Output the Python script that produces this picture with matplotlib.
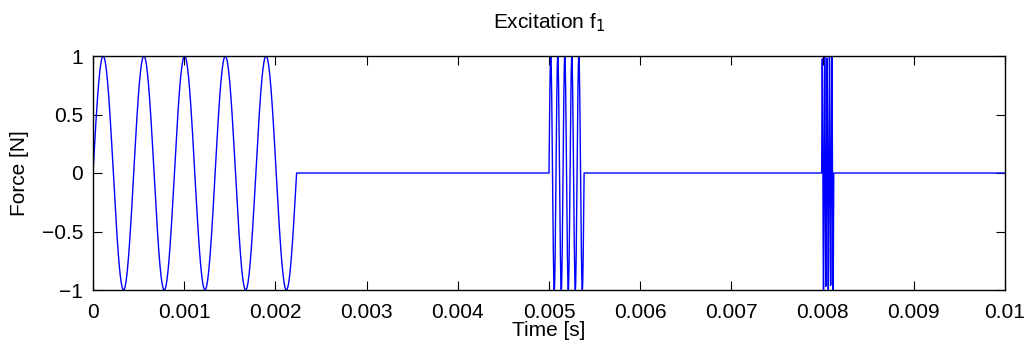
import numpy as np
import matplotlib
matplotlib.use("Agg")
import matplotlib.pyplot as plt

# Burst parameters
burst_start = [0.0, 0.005, 0.00799]      # s
burst_freq = [2240.0, 13000.0, 38000.0]  # Hz
burst_cycles = [5, 5, 5]
sample_dt = 2.5e-6                        # s
t_end = 0.01

x_ticks = [0, 0.001, 0.002, 0.003, 0.004, 0.005, 0.006, 0.007, 0.008, 0.009, 0.01]
x_tick_labels = ["0", "0.001", "0.002", "0.003", "0.004", "0.005", "0.006",
                 "0.007", "0.008", "0.009", "0.01"]
y_ticks = [-1, -0.5, 0, 0.5, 1]
y_tick_labels = ["\u22121", "\u22120.5", "0", "0.5", "1"]

t = np.arange(0, t_end + sample_dt / 2, sample_dt)
force = np.zeros_like(t)
for s, f, n in zip(burst_start, burst_freq, burst_cycles):
    m = (t >= s) & (t <= s + n / f)
    force[m] = np.sin(2 * np.pi * f * (t[m] - s))

plt.rcParams['font.family'] = ['Liberation Sans', 'DejaVu Sans']
fig = plt.figure(figsize=(10.25, 3.42), dpi=100)
ax = fig.add_axes([93 / 1025, 1 - 290 / 342, (1005 - 93) / 1025, (290 - 56) / 342])
ax.plot(t, force, color=(0, 0, 1), lw=1.0)
ax.set_xlim(0, 0.01)
ax.set_ylim(-1, 1)
ax.set_xticks(x_ticks)
ax.set_xticklabels(x_tick_labels)
ax.set_yticks(y_ticks)
ax.set_yticklabels(y_tick_labels)
ax.tick_params(direction='in', top=True, right=True, length=6.5, width=0.8,
               labelsize=15)
ax.tick_params(axis='x', pad=9)
ax.tick_params(axis='y', pad=7)
for sp in ax.spines.values():
    sp.set_linewidth(1.0)
ax.set_xlabel("Time [s]", fontsize=15, labelpad=0)
ax.set_ylabel("Force [N]", fontsize=15, labelpad=9)
ax.set_title("Excitation f$_1$", fontsize=15, pad=20)
fig.savefig("out.png", dpi=100)
